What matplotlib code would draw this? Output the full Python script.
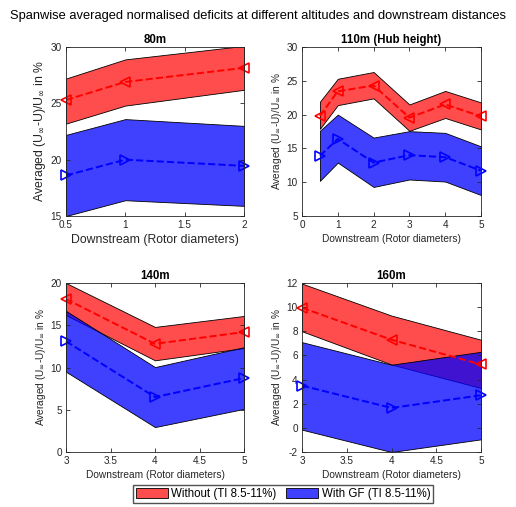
import matplotlib.pyplot as plt
from matplotlib.patches import Patch

plt.rcParams['font.family'] = ['Liberation Sans', 'DejaVu Sans']
plt.rcParams['mathtext.fontset'] = 'dejavusans'
plt.rcParams['axes.unicode_minus'] = False

# downstream positions (rotor diameters) per altitude
x_80 = [0.5, 1, 2]
x_110 = [0.5, 1, 2, 3, 4, 5]
x_140 = [3, 4, 5]
x_160 = [3, 4, 5]

# without GF: mean deficit and band limits (%)
red_mean_80 = [25.3, 26.9, 28.15]
red_low_80 = [23.2, 24.8, 26.2]
red_up_80 = [27.2, 28.9, 30.1]
red_mean_110 = [19.8, 23.45, 24.3, 19.55, 21.5, 19.75]
red_low_110 = [17.9, 21.4, 22.4, 17.6, 19.5, 17.8]
red_up_110 = [21.9, 25.3, 26.3, 21.5, 23.5, 21.8]
red_mean_140 = [18.1, 12.8, 14.2]
red_low_140 = [16.2, 10.85, 12.3]
red_up_140 = [20.0, 14.8, 16.1]
red_mean_160 = [9.95, 7.3, 5.25]
red_low_160 = [8.0, 5.25, 3.3]
red_up_160 = [11.95, 9.3, 7.3]

# with GF
blue_mean_80 = [18.6, 20.0, 19.45]
blue_low_80 = [15.0, 16.4, 15.9]
blue_up_80 = [22.2, 23.6, 23.0]
blue_mean_110 = [13.9, 16.4, 12.9, 14.0, 13.7, 11.7]
blue_low_110 = [10.2, 12.9, 9.3, 10.4, 10.1, 8.1]
blue_up_110 = [17.6, 20.0, 16.6, 17.55, 17.3, 15.3]
blue_mean_140 = [13.1, 6.5, 8.75]
blue_low_140 = [9.5, 2.95, 5.1]
blue_up_140 = [16.7, 10.05, 12.4]
blue_mean_160 = [3.5, 1.65, 2.7]
blue_low_160 = [-0.15, -2.0, -0.95]
blue_up_160 = [7.1, 5.23, 6.3]

titles = ['80m', '110m (Hub height)', '140m', '160m']
legend_labels = ['Without (TI 8.5-11%)', 'With GF (TI 8.5-11%)']

panels = [
    (x_80, red_mean_80, red_low_80, red_up_80, blue_mean_80, blue_low_80, blue_up_80,
     (0.5, 2), (15, 30), [0.5, 1, 1.5, 2], [15, 20, 25, 30]),
    (x_110, red_mean_110, red_low_110, red_up_110, blue_mean_110, blue_low_110, blue_up_110,
     (0, 5), (5, 30), [0, 1, 2, 3, 4, 5], [5, 10, 15, 20, 25, 30]),
    (x_140, red_mean_140, red_low_140, red_up_140, blue_mean_140, blue_low_140, blue_up_140,
     (3, 5), (0, 20), [3, 3.5, 4, 4.5, 5], [0, 5, 10, 15, 20]),
    (x_160, red_mean_160, red_low_160, red_up_160, blue_mean_160, blue_low_160, blue_up_160,
     (3, 5), (-2, 12), [3, 3.5, 4, 4.5, 5], [-2, 0, 2, 4, 6, 8, 10, 12]),
]

W, H = 516, 507
boxes = [(66, 47, 244, 216), (302, 47, 481, 216),
         (66, 283, 244, 452), (302, 283, 481, 452)]

fig = plt.figure(figsize=(W / 100, H / 100), dpi=100)
fig.text(0.5, 1 - 16 / H, 'Spanwise averaged normalised deficits at different altitudes and downstream distances',
         ha='center', va='center', fontsize=9.3)

red_face = (1, 0, 0, 0.7)
blue_face = (0, 0, 1, 0.75)
ylab = 'Averaged (U$_{\\infty}$-U)/U$_{\\infty}$ in %'

for k, (p, box) in enumerate(zip(panels, boxes)):
    x, rm, rl, ru, bm, bl, bu, xl, yl, xt, yt = p
    l, t, r, b = box
    ax = fig.add_axes([l / W, 1 - b / H, (r - l) / W, (b - t) / H])
    ax.fill_between(x, rl, ru, facecolor=red_face, edgecolor='k', linewidth=0.6)
    ax.fill_between(x, bl, bu, facecolor=blue_face, edgecolor='k', linewidth=0.6)
    ax.plot(x, rm, '--', color='r', lw=1.4, marker='<', ms=7, mfc='none', mew=1.2, clip_on=False)
    ax.plot(x, bm, '--', color='b', lw=1.4, marker='>', ms=7, mfc='none', mew=1.2, clip_on=False)
    ax.set_xlim(xl)
    ax.set_ylim(yl)
    ax.set_xticks(xt)
    ax.set_xticklabels([f'{v:g}' for v in xt])
    ax.set_yticks(yt)
    ax.tick_params(direction='in', top=True, right=True, length=3, width=0.6,
                   labelsize=7.2, colors='#262626', pad=3)
    for s in ax.spines.values():
        s.set_linewidth(0.6)
        s.set_color('#262626')
    ax.set_title(titles[k], fontsize=8.3, fontweight='bold', pad=3)
    big = 8.8 if k == 0 else 7.3
    ax.set_xlabel('Downstream (Rotor diameters)', fontsize=big, color='#262626', labelpad=3)
    ax.set_ylabel(ylab, fontsize=big, color='#262626', labelpad=2)

handles = [Patch(facecolor=red_face, edgecolor='k', linewidth=0.6),
           Patch(facecolor=blue_face, edgecolor='k', linewidth=0.6)]
fig.legend(handles, legend_labels, loc='center', bbox_to_anchor=(283 / W, 1 - 494 / H),
           ncol=2, fontsize=8.3, frameon=True, fancybox=False, edgecolor='#262626',
           handlelength=2.8, handleheight=0.9, handletextpad=0.3, columnspacing=0.8,
           borderpad=0.25, borderaxespad=0)

fig.savefig('out.png', dpi=100)
